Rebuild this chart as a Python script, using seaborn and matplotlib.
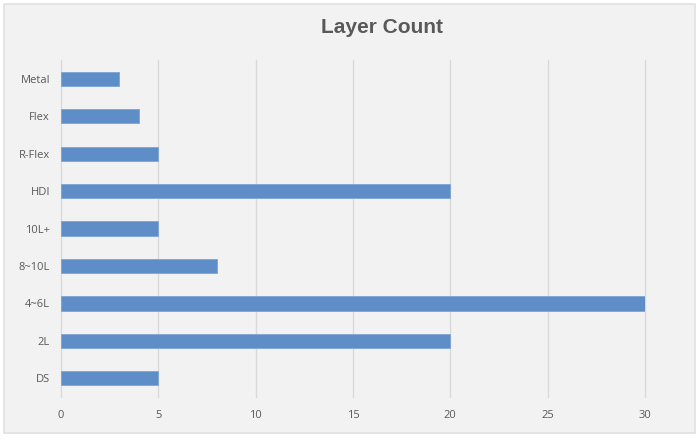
import matplotlib
matplotlib.use("Agg")
import matplotlib.pyplot as plt
import seaborn as sns
import pandas as pd
from matplotlib.patches import Rectangle

# --- DATA ---
categories = ["Metal", "Flex", "R-Flex", "HDI", "10L+", "8~10L", "4~6L", "2L", "DS"]
counts = [3, 4, 5, 20, 5, 8, 30, 20, 5]
x_ticks = [0, 5, 10, 15, 20, 25, 30]

df = pd.DataFrame({"category": categories, "count": counts})

sns.set_style("whitegrid")
plt.rcParams['font.family'] = ['Open Sans', 'DejaVu Sans']

fig = plt.figure(figsize=(6.98, 4.40), dpi=100, facecolor="white")
# panel background with light frame
fig.patches.append(Rectangle((0.006, 0.016), 0.99, 0.975, transform=fig.transFigure,
                             facecolor="#f2f2f2", edgecolor="#e0e0e0", linewidth=1.2, zorder=-10))
ax = fig.add_axes([0.0874, 0.0977, 0.8366, 0.7659])
ax.set_facecolor("none")

sns.barplot(data=df, x="count", y="category", order=categories, color="#5F8DC7",
            edgecolor="#7ea3d3", linewidth=0.6, width=0.38, saturation=1, ax=ax)

ax.set_xlim(0, 30)
ax.set_ylim(8.5, -0.5)
ax.set_xticks(x_ticks)
ax.grid(axis="x", color="#d9d9d9", linewidth=1)
ax.grid(axis="y", visible=False)
for gl in ax.get_xgridlines():
    gl.set_clip_on(False)
for s in ax.spines.values():
    s.set_visible(False)
ax.set_xlabel("")
ax.set_ylabel("")
ax.tick_params(axis="both", length=0, labelsize=8, labelcolor="#595959")
ax.tick_params(axis="x", pad=9)
ax.tick_params(axis="y", pad=8)

fig.text(0.547, 0.938, "Layer Count", ha="center", va="center", fontsize=15,
         fontweight="bold", color="#595959", family=["Liberation Sans", "DejaVu Sans"])

fig.savefig("out.png", dpi=100, facecolor=fig.get_facecolor())
